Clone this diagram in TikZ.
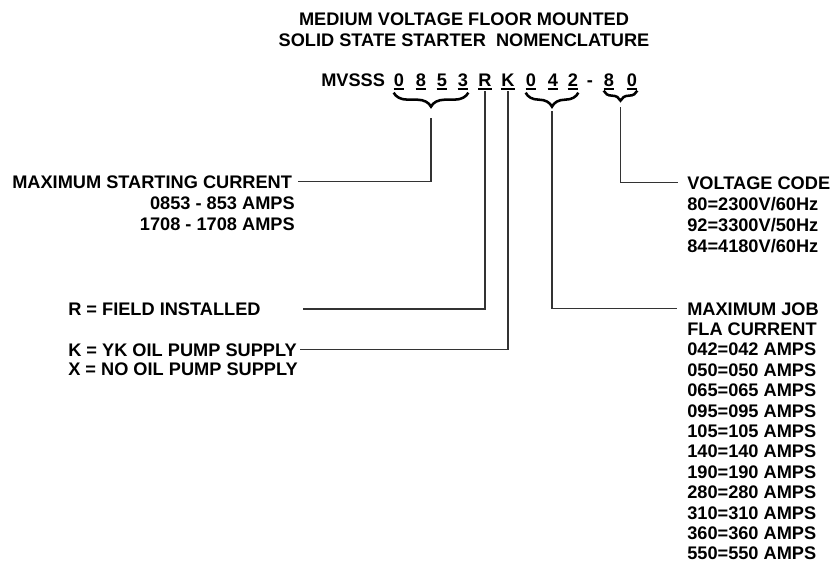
\documentclass[tikz,border=0pt]{standalone}
\usepackage{fontspec}
\setmainfont{Liberation Sans}
\usetikzlibrary{decorations.pathreplacing,calc}
\begin{document}
\begin{tikzpicture}[x=0.75pt,y=-0.75pt,
  txt/.style={font=\fontsize{13.65pt}{15pt}\selectfont\bfseries, inner sep=0pt},
  code/.style={txt, anchor=base},
  conn/.style={line width=0.8pt, draw=black!80},
  ul/.style={line width=1.5pt},
  brc/.style={decorate, decoration={brace, mirror, amplitude=#1}, line width=1.9pt}]
\useasboundingbox (0,0) rectangle (833,575);
% title
\node[txt,anchor=base] (t1) at (464,25) {MEDIUM VOLTAGE FLOOR MOUNTED};
\node[txt,anchor=base] (t2) at (464,46) {SOLID STATE STARTER\ \ NOMENCLATURE};
% code line
\node[txt,anchor=base west] (mv) at (321,86) {MVSSS};
\foreach \n/\x/\c in {a/399/0, b/421/8, c/442/5, d/463/3, r/485/R, k/508/K, e/531/0, f/553/4, g/573/2, h/609/8, i/632/0}{
  \node[code] (c\n) at (\x,86) {\c};
  \draw[ul] ([yshift=-2.4pt]c\n.base west) -- ([yshift=-2.4pt]c\n.base east);
}
\node[code] (dash) at (590,86) {-};
% braces
\draw[brc=10.5pt] ([yshift=-5pt]ca.base west) -- ([yshift=-5pt]cd.base east);
\draw[brc=10.5pt] ([yshift=-5pt]ce.base west) -- ([yshift=-5pt]cg.base east);
\draw[brc=7.5pt] ([yshift=-3.5pt]ch.base west) -- ([yshift=-3.5pt]ci.base east);
\coordinate (b1) at ($(ca.base west)!0.5!(cd.base east)+(0,32)$);
\coordinate (b2) at ($(ce.base west)!0.5!(cg.base east)+(0,25)$);
\coordinate (b3) at ($(ch.base west)!0.5!(ci.base east)+(0,21)$);
% left texts
\node[txt,anchor=base west] (msc) at (12,188) {MAXIMUM STARTING CURRENT};
\node[txt,anchor=base east] (m2) at (295,209) {0853 - 853 AMPS};
\node[txt,anchor=base east] (m3) at (295,230) {1708 - 1708 AMPS};
\node[txt,anchor=base west] (rt) at (68,315) {R = FIELD INSTALLED};
\node[txt,anchor=base west] (kt) at (68,356) {K = YK OIL PUMP SUPPLY};
\node[txt,anchor=base west] (xt) at (68,375) {X = NO OIL PUMP SUPPLY};
\coordinate (rend) at (303,309);
% right texts
\foreach \t [count=\i] in {VOLTAGE CODE, 80=2300V/60Hz, 92=3300V/50Hz, 84=4180V/60Hz}{
  \node[txt,anchor=base west] (v\i) at (687,{189+21*(\i-1)}) {\t};
}
\foreach \t [count=\i] in {MAXIMUM JOB, FLA CURRENT, 042=042 AMPS, 050=050 AMPS, 065=065 AMPS, 095=095 AMPS, 105=105 AMPS, 140=140 AMPS, 190=190 AMPS, 280=280 AMPS, 310=310 AMPS, 360=360 AMPS, 550=550 AMPS}{
  \node[txt,anchor=base west] (j\i) at (687,{315+20.4*(\i-1)}) {\t};
}
% connectors
\draw[conn] (b1) |- ([xshift=4pt]msc.east);
\draw[conn] ([yshift=-4pt]cr.base) |- (rend);
\draw[conn] ([yshift=-4pt]ck.base) |- ([xshift=2pt]kt.east);
\draw[conn] (b2) |- ([xshift=-7.5pt]j1.west);
\draw[conn] (b3) |- ([xshift=-7pt]v1.west);
\end{tikzpicture}
\end{document}
